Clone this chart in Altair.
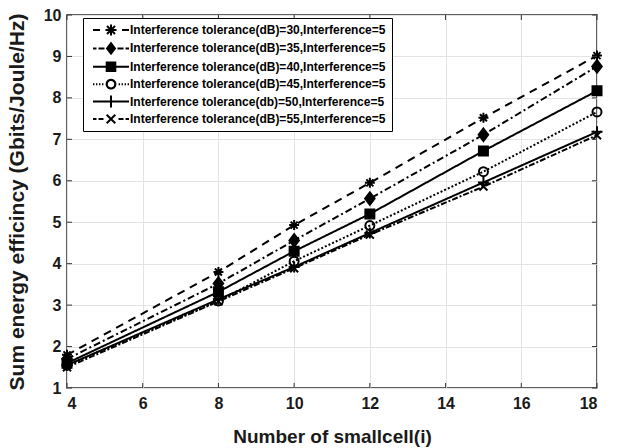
import math
import altair as alt
import pandas as pd

# ---- data ----
x_vals = [4, 8, 10, 12, 15, 18]
series_names = [
    "Interference tolerance(dB)=30,Interference=5",
    "Interference tolerance(dB)=35,Interference=5",
    "Interference tolerance(dB)=40,Interference=5",
    "Interference tolerance(dB)=45,Interference=5",
    "Interference tolerance(db)=50,Interference=5",
    "Interference tolerance(dB)=55,Interference=5",
]
s30 = [1.80, 3.80, 4.93, 5.95, 7.52, 9.02]
s35 = [1.70, 3.52, 4.56, 5.57, 7.11, 8.76]
s40 = [1.60, 3.32, 4.30, 5.20, 6.72, 8.17]
s45 = [1.55, 3.10, 4.06, 4.92, 6.22, 7.66]
s50 = [1.55, 3.14, 3.92, 4.74, 5.96, 7.18]
s55 = [1.50, 3.09, 3.89, 4.70, 5.86, 7.10]
all_series = [s30, s35, s40, s45, s50, s55]

x_ticks = [4, 6, 8, 10, 12, 14, 16, 18]
y_ticks = [1, 2, 3, 4, 5, 6, 7, 8, 9, 10]

rows = []
for name, vals in zip(series_names, all_series):
    for xv, yv in zip(x_vals, vals):
        rows.append({"series": name, "x": xv, "y": yv})
df = pd.DataFrame(rows)
xt_df = pd.DataFrame({"t": x_ticks})
yt_df = pd.DataFrame({"t": y_ticks})

W, H = 530, 373
FONT = "Liberation Sans"

xscale = alt.Scale(domain=[4, 18], nice=False, zero=False)
yscale = alt.Scale(domain=[1, 10], nice=False, zero=False)

# ---- marker shapes for the plot (unit = 5 px at size 100) ----
ast = "M-1,0H1M0,-1V1M-0.7,-0.7L0.7,0.7M-0.7,0.7L0.7,-0.7"
dia = "M0,-1.25L0.95,0L0,1.25L-0.95,0Z"
sq = "M-0.9,-0.9H0.9V0.9H-0.9Z"
circ = "M0.9,0A0.9,0.9,0,1,1,-0.9,0A0.9,0.9,0,1,1,0.9,0Z"
plus = "M-1.1,0H1.1M0,-1.1V1.1"
xm = "M-0.8,-0.8L0.8,0.8M-0.8,0.8L0.8,-0.8"

# ---- legend symbols built from filled geometry (px, converted to units of 5 px) ----
U = 5.0


def poly(pts, positive=True):
    area = sum(pts[i][0] * pts[(i + 1) % len(pts)][1] - pts[(i + 1) % len(pts)][0] * pts[i][1]
               for i in range(len(pts)))
    if (area > 0) != positive:
        pts = pts[::-1]
    s = "M" + "L".join(f"{px / U:.3f},{py / U:.3f}" for px, py in pts) + "Z"
    return s


def seg(x1, y1, x2, y2, hw=1.0):
    dx, dy = x2 - x1, y2 - y1
    ln = math.hypot(dx, dy)
    nx, ny = -dy / ln * hw, dx / ln * hw
    return poly([(x1 + nx, y1 + ny), (x2 + nx, y2 + ny), (x2 - nx, y2 - ny), (x1 - nx, y1 - ny)])


def circle(r, positive=True, n=28):
    pts = [(r * math.cos(2 * math.pi * k / n), r * math.sin(2 * math.pi * k / n)) for k in range(n)]
    return poly(pts, positive)


def hsegs(pairs):
    return "".join(seg(a, 0, b, 0) for a, b in pairs)


leg_ast = (seg(-5.5, 0, 5.5, 0) + seg(0, -5.5, 0, 5.5) +
           seg(-4, -4, 4, 4) + seg(-4, 4, 4, -4))
leg_dia = poly([(0, -6.8), (5.2, 0), (0, 6.8), (-5.2, 0)])
leg_sq = poly([(-5.3, -5.3), (5.3, -5.3), (5.3, 5.3), (-5.3, 5.3)])
leg_ring = circle(5.4, True) + circle(3.2, False)
leg_plus = seg(0, -6, 0, 6)
leg_x = seg(-4.3, -4.3, 4.3, 4.3) + seg(-4.3, 4.3, 4.3, -4.3)
dots = [(-18, -16.6), (-15, -13.6), (-12, -10.6), (-9, -7.6),
        (7.6, 9), (10.6, 12), (13.6, 15), (16.6, 18)]

leg_shapes = [
    hsegs([(-18, -11), (11, 18)]) + leg_ast,
    hsegs([(-18, -14.5), (-12.5, -6.5), (6.5, 12.5), (14.5, 18)]) + leg_dia,
    hsegs([(-18, 18)]) + leg_sq,
    hsegs(dots) + leg_ring,
    hsegs([(-18, 18)]) + leg_plus,
    hsegs([(-18, -14.5), (-12.5, -7.5), (7.5, 12.5), (14.5, 18)]) + leg_x,
]

X = alt.X("x:Q", scale=xscale, axis=alt.Axis(
    values=x_ticks, title="Number of smallcell(i)", grid=True, ticks=False, domain=False,
    labelFontSize=16, labelFontWeight="bold", labelFont=FONT, labelColor="#1a1a1a",
    labelPadding=7, titleFontSize=19, titleFontWeight="bold", titleFont=FONT,
    titleColor="#1a1a1a", titleX=W / 2, titleY=48, titleBaseline="middle",
    gridColor="#e3e3e3", gridWidth=1))
Y = alt.Y("y:Q", scale=yscale, axis=alt.Axis(
    values=y_ticks, title="Sum energy efficincy (Gbits/Joule/Hz)", grid=True, ticks=False,
    domain=False, labelFontSize=16, labelFontWeight="bold", labelFont=FONT,
    labelColor="#1a1a1a", labelPadding=6, titleFontSize=21, titleFontWeight="bold",
    titleFont=FONT, titleColor="#1a1a1a", titleX=-50, titleY=H / 2, titleAngle=-90,
    titleAlign="center", titleBaseline="middle", gridColor="#e3e3e3", gridWidth=1))

lines = alt.Chart(df).mark_line(color="black", strokeWidth=2).encode(
    x=X, y=Y,
    detail="series:N",
    strokeDash=alt.StrokeDash("series:N", scale=alt.Scale(
        domain=series_names,
        range=[[8, 6], [7, 3, 2, 3], [1, 0], [2, 2], [1, 0], [6, 2, 2, 2]]), legend=None),
)

markers = alt.Chart(df).mark_point(opacity=1, strokeWidth=2, stroke="black", size=100).encode(
    x=alt.X("x:Q", scale=xscale),
    y=alt.Y("y:Q", scale=yscale),
    shape=alt.Shape("series:N", scale=alt.Scale(domain=series_names,
                                                range=[ast, dia, sq, circ, plus, xm]), legend=None),
    fill=alt.Fill("series:N", scale=alt.Scale(domain=series_names,
                  range=["black", "black", "black", "transparent", "black", "black"]), legend=None),
)

legend_layer = alt.Chart(df).transform_filter("false").mark_point(
    filled=True, color="black", opacity=1).encode(
    x=alt.X("x:Q", scale=xscale),
    y=alt.Y("y:Q", scale=yscale),
    shape=alt.Shape("series:N", scale=alt.Scale(domain=series_names, range=leg_shapes),
                    legend=alt.Legend(
                        title=None, orient="none", legendX=16, legendY=3,
                        symbolSize=100, symbolOffset=16, labelOffset=13,
                        symbolStrokeWidth=0, symbolFillColor="black", symbolOpacity=1,
                        labelFont=FONT, labelFontSize=12, labelFontWeight="bold",
                        labelColor="black", labelLimit=400,
                        strokeColor="black", fillColor="white", padding=6,
                        rowPadding=5.4)),
)


def tick_rules(data, enc):
    return alt.Chart(data).mark_rule(color="#333333", strokeWidth=1).encode(**enc)


xt_scale = alt.X("t:Q", scale=xscale)
yt_scale = alt.Y("t:Q", scale=yscale)
ticks = alt.layer(
    tick_rules(xt_df, dict(x=xt_scale, y=alt.value(H), y2=alt.value(H - 5))),
    tick_rules(xt_df, dict(x=xt_scale, y=alt.value(0), y2=alt.value(5))),
    tick_rules(yt_df, dict(y=yt_scale, x=alt.value(0), x2=alt.value(5))),
    tick_rules(yt_df, dict(y=yt_scale, x=alt.value(W), x2=alt.value(W - 5))),
)

chart = alt.layer(lines, markers, ticks, legend_layer).resolve_scale(
    shape="independent"
).properties(
    width=W, height=H,
    autosize=alt.AutoSizeParams(type="none"),
    padding={"left": 67, "top": 15, "right": 30, "bottom": 60},
    background="white",
).configure_view(stroke="#2b2b2b", strokeWidth=1.5)

chart.save("out.html", embed_options={"renderer": "svg", "actions": False})
